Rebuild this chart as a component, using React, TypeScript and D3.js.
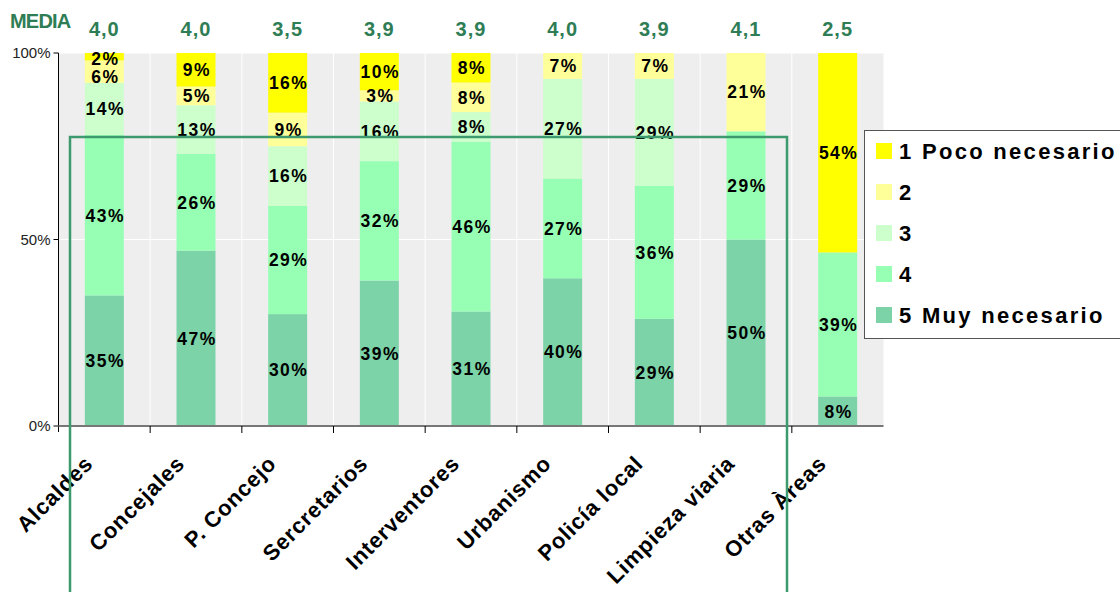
import React from "react";
import * as d3 from "d3";

const categories = ["Alcaldes", "Concejales", "P. Concejo", "Sercretarios", "Interventores", "Urbanismo", "Policía local", "Limpieza viaria", "Otras Àreas"];
const medias = ["4,0", "4,0", "3,5", "3,9", "3,9", "4,0", "3,9", "4,1", "2,5"];
const s1 = [2, 9, 16, 10, 8, 0, 0, 0, 54];
const s2 = [6, 5, 9, 3, 8, 7, 7, 21, 0];
const s3 = [14, 13, 16, 16, 8, 27, 29, 0, 0];
const s4 = [43, 26, 29, 32, 46, 27, 36, 29, 39];
const s5 = [35, 47, 30, 39, 31, 40, 29, 50, 8];
const seriesNames = ["1 Poco necesario", "2", "3", "4", "5 Muy necesario"];
const seriesColors = ["#FFFF00", "#FFFF99", "#CCFFCC", "#96FFB4", "#7BD3A7"];
const yTicks = [0, 0.5, 1];

const W = 1120, H = 592;
const left = 58.5, right = 883.5, top = 53, bottom = 426;

export default function App() {
  const x = d3.scaleBand<string>().domain(categories).range([left, right]).paddingInner(0).paddingOuter(0);
  const y = d3.scaleLinear().domain([0, 1]).range([bottom, top]);
  const barW = 39;

  const seriesData = [s1, s2, s3, s4, s5];
  const rows = categories.map((c, i) => {
    const o: any = { cat: c };
    seriesNames.forEach((n, k) => (o[n] = seriesData[k][i]));
    return o;
  });
  const stack = d3.stack<any>().keys([...seriesNames].reverse()).offset(d3.stackOffsetExpand);
  const stacked = stack(rows);

  const gap = 17.5;
  const labels: { i: number; v: number; cx: number; cy: number }[] = [];
  categories.forEach((c, i) => {
    const cx = x(c)! + x.bandwidth() / 2;
    let prev = top + 6 - gap;
    seriesNames.forEach((n, k) => {
      const layer = stacked.find((l) => l.key === n)!;
      const d = layer[i];
      const v = seriesData[k][i];
      if (!v) return;
      let cy = (y(d[0]) + y(d[1])) / 2;
      if (cy < prev + gap) cy = prev + gap;
      prev = cy;
      labels.push({ i, v, cx, cy });
    });
  });

  const font = "'Liberation Sans', Arial, sans-serif";

  return (
    <svg width={W} height={H} style={{ position: "absolute", left: 0, top: 0, background: "#fff" }} fontFamily={font}>
      <rect x={left} y={top} width={right - left} height={bottom - top} fill="#EEEEEE" />
      {yTicks.slice(1).map((t) => (
        <line key={t} x1={left} x2={right} y1={y(t)} y2={y(t)} stroke="#fff" strokeWidth={1} />
      ))}
      {categories.slice(1).map((c) => (
        <line key={c} x1={x(c)!} x2={x(c)!} y1={top} y2={bottom} stroke="#fff" strokeWidth={1} />
      ))}
      {stacked.map((layer) => {
        const k = seriesNames.indexOf(layer.key);
        return (
          <g key={layer.key} fill={seriesColors[k]}>
            {layer.map((d, i) => {
              const cx = x(categories[i])! + x.bandwidth() / 2;
              const h = y(d[0]) - y(d[1]);
              if (h <= 0) return null;
              return <rect key={i} x={cx - barW / 2} y={y(d[1])} width={barW} height={h} />;
            })}
          </g>
        );
      })}
      {labels.map((l, j) => (
        <text key={"lab" + j} x={l.cx + 1} y={l.cy} dy="0.36em" textAnchor="middle" fontSize={17.5} fontWeight="bold" letterSpacing={1.5} fill="#000">
          {l.v}%
        </text>
      ))}
      <line x1={left} x2={left} y1={top} y2={bottom + 6} stroke="#000" strokeWidth={1} />
      {yTicks.map((t) => (
        <g key={"yt" + t}>
          <line x1={left - 5} x2={left} y1={y(t)} y2={y(t)} stroke="#000" />
          <text x={left - 8} y={y(t)} dy="0.35em" textAnchor="end" fontSize={15} fill="#222">
            {Math.round(t * 100)}%
          </text>
        </g>
      ))}
      <line x1={left} x2={right} y1={bottom} y2={bottom} stroke="#777" strokeWidth={2} />
      {categories.map((c, i) =>
        i === 0 ? null : <line key={"xt" + c} x1={x(c)!} x2={x(c)!} y1={bottom} y2={bottom + 7} stroke="#000" />
      )}
      {categories.map((c) => {
        const cx = x(c)! + x.bandwidth() / 2;
        return (
          <text key={"xl" + c} transform={`translate(${cx - 10},${465}) rotate(-45)`} textAnchor="end" fontSize={22} fontWeight="bold" letterSpacing={0.8} fill="#000">
            {c}
          </text>
        );
      })}
      <text x={10} y={27.5} fontSize={20} fontWeight="bold" fill="#2E7D55" letterSpacing={-0.8}>MEDIA</text>
      {medias.map((m, i) => {
        const cx = x(categories[i])! + x.bandwidth() / 2;
        return (
          <text key={"m" + i} x={cx} y={36} textAnchor="middle" fontSize={20} fontWeight="bold" fill="#2E7D55" letterSpacing={1}>
            {m}
          </text>
        );
      })}
      <rect x={864.5} y={130.5} width={270} height={208} fill="#fff" stroke="#555" strokeWidth={1} />
      {seriesNames.map((n, k) => {
        const cy = 151 + k * 41;
        return (
          <g key={"lg" + n}>
            <rect x={876} y={cy - 8} width={16} height={16} fill={seriesColors[k]} />
            <text x={899} y={cy} dy="0.36em" fontSize={22} fontWeight="bold" letterSpacing={2.3} fill="#000">
              {n}
            </text>
          </g>
        );
      })}
      <rect x={70} y={137} width={717} height={480} fill="none" stroke="#3C9A6E" strokeWidth={2.5} />
    </svg>
  );
}
